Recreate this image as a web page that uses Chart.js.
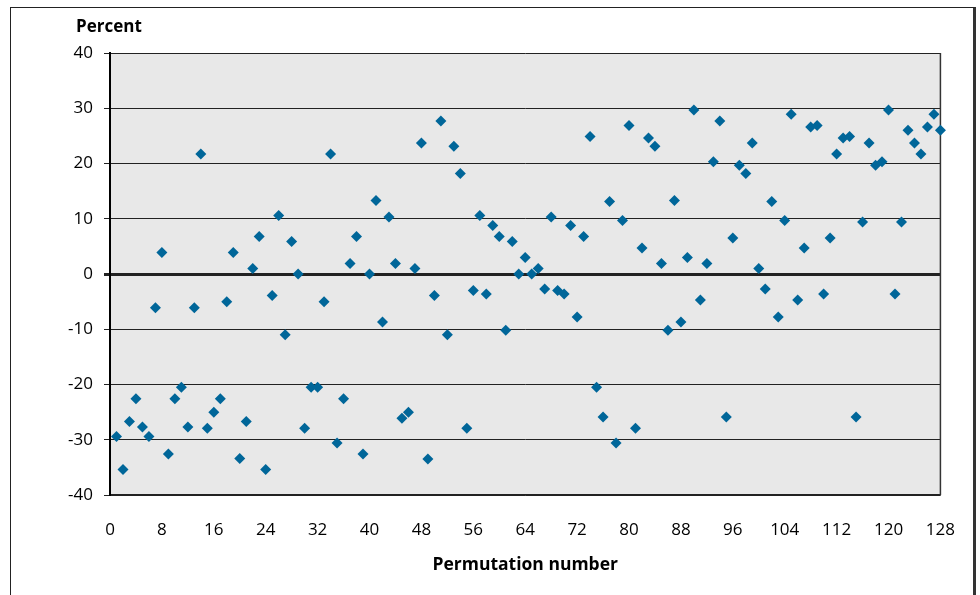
<!DOCTYPE html>
<html><head><meta charset="utf-8">
<script src="https://cdn.jsdelivr.net/npm/chart.js@4.4.1/dist/chart.umd.min.js"></script>
<style>
html,body{margin:0;padding:0;background:#fff;}
#wrap{position:relative;width:980px;height:595px;overflow:hidden;}
#frame{position:absolute;left:10px;top:7px;width:966px;height:620px;border:1px solid #222;border-right:3px solid #333;box-sizing:border-box;}
canvas{position:absolute;left:0;top:0;}
</style></head><body>
<div id="wrap"><div id="frame"></div><canvas id="c" width="980" height="595"></canvas></div>
<script>
const permutation = [1,2,3,4,5,6,7,8,9,10,11,12,13,14,15,16,17,18,19,20,21,22,23,24,25,26,27,28,29,30,31,32,
33,34,35,36,37,38,39,40,41,42,43,44,45,46,47,48,49,50,51,52,53,54,55,56,57,58,59,60,61,62,63,64,
65,66,67,68,69,70,71,72,73,74,75,76,77,78,79,80,81,82,83,84,85,86,87,88,89,90,91,92,93,94,95,96,
97,98,99,100,101,102,103,104,105,106,107,108,109,110,111,112,113,114,115,116,117,118,119,120,121,122,123,124,125,126,127,128];
const percent = [
-29.4,-35.4,-26.7,-22.6,-27.7,-29.4,-6.1,3.9,-32.6,-22.6,-20.5,-27.7,-6.1,21.7,-27.9,-25.0,
-22.6,-5.0,3.9,-33.4,-26.7,1.0,6.8,-35.4,-3.9,10.6,-11.0,5.9,0.0,-27.9,-20.5,-20.5,
-5.0,21.7,-30.6,-22.6,1.9,6.8,-32.6,0.0,13.3,-8.7,10.3,1.9,-26.1,-25.0,1.0,23.7,
-33.5,-3.9,27.7,-11.0,23.1,18.2,-27.9,-3.0,10.6,-3.6,8.8,6.8,-10.2,5.9,0.0,3.0,
0.0,1.0,-2.7,10.3,-3.0,-3.6,8.8,-7.8,6.8,24.9,-20.5,-25.9,13.1,-30.6,9.7,26.9,
-27.9,4.7,24.6,23.1,1.9,-10.2,13.3,-8.7,3.0,29.7,-4.7,1.9,20.3,27.7,-25.9,6.5,
19.7,18.2,23.7,1.0,-2.7,13.1,-7.8,9.7,28.9,-4.7,4.7,26.6,26.9,-3.6,6.5,21.7,
24.6,24.9,-25.9,9.4,23.7,19.7,20.3,29.7,-3.6,9.4,26.0,23.7,21.7,26.6,28.9,26.0];
const xTitle = 'Permutation number';
const yTitle = 'Percent';

Chart.defaults.font.family = "'Open Sans', 'DejaVu Sans', sans-serif";
Chart.defaults.color = '#000';

const plotDeco = {
  id: 'plotDeco',
  beforeDraw(chart) {
    const {ctx, chartArea: a} = chart;
    ctx.save();
    ctx.fillStyle = '#e8e8e8';
    ctx.fillRect(a.left, a.top, a.right - a.left, a.bottom - a.top);
    ctx.restore();
  },
  beforeDatasetsDraw(chart) {
    const {ctx, chartArea: a} = chart;
    ctx.save();
    ctx.strokeStyle = '#333';
    ctx.lineWidth = 1.5;
    ctx.beginPath();
    ctx.moveTo(a.right, a.top);
    ctx.lineTo(a.right, a.bottom);
    ctx.stroke();
    ctx.restore();
  },
  afterDraw(chart) {
    const {ctx} = chart;
    ctx.save();
    ctx.font = "bold 17px 'Open Sans', sans-serif";
    ctx.fillStyle = '#000';
    ctx.textAlign = 'left';
    ctx.textBaseline = 'middle';
    ctx.fillText(yTitle, 76, 27);
    ctx.restore();
  }
};

new Chart(document.getElementById('c'), {
  type: 'scatter',
  data: {
    datasets: [{
      data: permutation.map((x, i) => ({x: x, y: percent[i]})),
      pointStyle: 'rectRot',
      pointRadius: 5.5,
      pointHoverRadius: 5.5,
      backgroundColor: '#006699',
      borderColor: '#006699',
      borderWidth: 0,
      clip: false
    }]
  },
  options: {
    responsive: false,
    animation: false,
    devicePixelRatio: 1,
    layout: {padding: {top: 53, right: 38, left: 0, bottom: 0}},
    plugins: {legend: {display: false}, tooltip: {enabled: false}},
    scales: {
      x: {
        type: 'linear', min: 0, max: 128,
        afterFit(s) { s.height = 100; },
        ticks: {stepSize: 8, padding: 25, font: {size: 17}, color: '#000', maxRotation: 0},
        grid: {display: false, drawTicks: false},
        border: {display: true, color: '#222', width: 1.5},
        title: {display: true, text: xTitle, font: {size: 17.5, weight: 'bold'}, color: '#000', padding: {top: 0, bottom: 19}}
      },
      y: {
        min: -40, max: 40,
        afterFit(s) { s.width = 110; },
        ticks: {stepSize: 10, padding: 11, font: {size: 17}, color: '#000'},
        grid: {
          color: '#222',
          tickColor: '#222',
          tickLength: 6,
          lineWidth: (c) => (c.tick && c.tick.value === 0 ? 3 : 1)
        },
        border: {display: true, color: '#000', width: 2}
      }
    }
  },
  plugins: [plotDeco]
});
</script>
</body></html>
